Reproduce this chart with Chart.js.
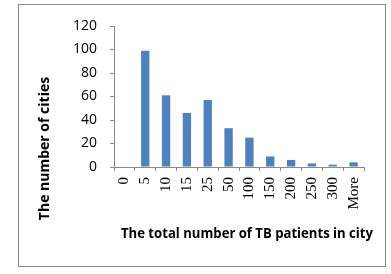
<!DOCTYPE html>
<html>
<head>
<meta charset="utf-8">
<script src="https://cdn.jsdelivr.net/npm/chart.js@4/dist/chart.umd.min.js"></script>
<style>
  html, body { margin: 0; padding: 0; background: #fff; }
  #wrap { position: relative; width: 391px; height: 274px; }
  #frame { position: absolute; left: 18px; top: 4px; width: 368px; height: 263px; border: 1px solid #8a8a8a; box-sizing: border-box; }
  canvas { position: absolute; left: 0; top: 0; }
</style>
</head>
<body>
<div id="wrap">
  <div id="frame"></div>
  <canvas id="c" width="391" height="274"></canvas>
</div>
<script>
const categories = ["0", "5", "10", "15", "25", "50", "100", "150", "200", "250", "300", "More"];
const cityCounts = [0, 99, 61, 46, 57, 33, 25, 9, 6, 3, 2, 4];
const yTicks = [0, 20, 40, 60, 80, 100, 120];
const xTitle = "The total number of TB patients in city";
const yTitle = "The number of cities";

const titlePlugin = {
  id: 'axisTitles',
  afterDraw(chart) {
    const ctx = chart.ctx;
    ctx.save();
    ctx.fillStyle = '#000';
    ctx.font = 'bold 14px "Open Sans"';
    ctx.textAlign = 'center';
    ctx.textBaseline = 'middle';
    ctx.fillText(xTitle, 247, 234, 252);
    ctx.translate(45, 148.5);
    ctx.rotate(-Math.PI / 2);
    ctx.fillText(yTitle, 0, 0, 153);
    ctx.restore();
  }
};

new Chart(document.getElementById('c'), {
  type: 'bar',
  data: {
    labels: categories,
    datasets: [{
      data: cityCounts,
      backgroundColor: '#4F81BD',
      borderWidth: 0,
      categoryPercentage: 1,
      barPercentage: 0.4
    }]
  },
  options: {
    responsive: false,
    animation: false,
    events: [],
    layout: { padding: { left: 0, right: 27, top: 26, bottom: 0 } },
    plugins: { legend: { display: false }, tooltip: { enabled: false } },
    scales: {
      x: {
        afterFit: s => { s.height = 274 - 167; },
        grid: { offset: true, drawOnChartArea: false, drawTicks: true, tickLength: 4, color: '#8a8a8a' },
        border: { color: '#8a8a8a' },
        ticks: {
          minRotation: 90, maxRotation: 90, padding: 6, autoSkip: false,
          color: '#000', font: { family: '"Liberation Serif"', size: 15 }
        }
      },
      y: {
        min: 0, max: 120,
        afterFit: s => { s.width = 114; },
        afterBuildTicks: s => { s.ticks = yTicks.map(v => ({ value: v })); },
        grid: { drawOnChartArea: false, drawTicks: true, tickLength: 4, color: '#8a8a8a' },
        border: { color: '#8a8a8a' },
        ticks: { padding: 13, color: '#000', font: { family: '"Open Sans"', size: 14 } }
      }
    }
  },
  plugins: [titlePlugin]
});
</script>
</body>
</html>
